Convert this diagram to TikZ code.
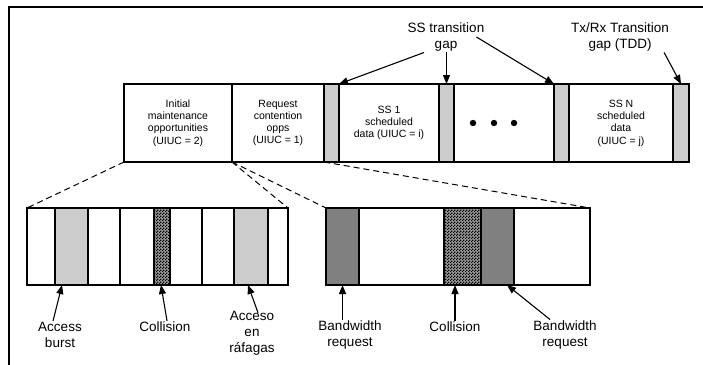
\documentclass[tikz,border=0pt]{standalone}
\usepackage{fontspec}
\setmainfont{Liberation Sans}
\usetikzlibrary{positioning,patterns,arrows.meta}
\pgfdeclarepatternformonly{finecheck}{\pgfpointorigin}{\pgfpoint{3pt}{3pt}}{\pgfpoint{3pt}{3pt}}
{\pgfpathrectangle{\pgfpointorigin}{\pgfpoint{1.5pt}{1.5pt}}
 \pgfpathrectangle{\pgfpoint{1.5pt}{1.5pt}}{\pgfpoint{1.5pt}{1.5pt}}
 \pgfusepath{fill}}
\tikzset{
cell/.style={rectangle,draw=black,line width=1.8pt,inner sep=0pt,outer sep=0pt,
minimum height=78pt,align=center,font=\fontsize{10.5}{12.3}\selectfont},
slot/.style={rectangle,draw=black,line width=1.8pt,inner sep=0pt,outer sep=0pt,
minimum height=77pt},
gapfill/.style={fill=black!20},
burst/.style={fill=black!20},
bwreq/.style={fill=black!50},
clash/.style={preaction={fill=black!40},pattern=finecheck,pattern color=black},
lbl/.style={align=center,inner sep=1pt,font=\fontsize{13.5}{16}\selectfont},
zoomline/.style={dash pattern=on 6pt off 4pt,line width=1pt},
tag/.style={-{Triangle[length=9pt,width=7pt]},line width=1.1pt}
}
\begin{document}
\begin{tikzpicture}[x=1pt,y=1pt]
\useasboundingbox (0,0) rectangle (703,-364);
\clip (0,0) rectangle (703,-364);
\draw[line width=1.3pt] (9,-7) rectangle (720,-380);

% frame of the upstream subframe
\node[cell,minimum width=108pt,anchor=north west] (init) at (124,-84)
  {Initial\\maintenance\\opportunities\\(UIUC = 2)};
\node[cell,minimum width=92pt,right=0pt of init] (req)
  {Request\\contention\\opps\\(UIUC = 1)};
\node[cell,gapfill,minimum width=15pt,right=0pt of req] (gapA) {};
\node[cell,minimum width=100pt,right=0pt of gapA] (ss1)
  {SS 1\\scheduled\\data (UIUC = i)};
\node[cell,gapfill,minimum width=15pt,right=0pt of ss1] (gapB) {};
\node[cell,minimum width=100pt,right=0pt of gapB] (more) {};
\node[cell,gapfill,minimum width=15pt,right=0pt of more] (gapC) {};
\node[cell,minimum width=104pt,right=0pt of gapC] (ssn)
  {SS N\\scheduled\\data\\(UIUC = j)};
\node[cell,gapfill,minimum width=16pt,right=0pt of ssn] (gapD) {};

\foreach \dx in {-31,-10,10}
  \fill ([xshift=\dx pt]more.center) circle (3.2pt);

% initial maintenance slots
\node[slot,minimum width=28pt,anchor=north west] (a1) at (27,-208) {};
\node[slot,burst,minimum width=33pt,right=0pt of a1] (a2) {};
\node[slot,minimum width=32pt,right=0pt of a2] (a3) {};
\node[slot,minimum width=34pt,right=0pt of a3] (a4) {};
\node[slot,clash,minimum width=16pt,right=0pt of a4] (a5) {};
\node[slot,minimum width=32pt,right=0pt of a5] (a6) {};
\node[slot,minimum width=32pt,right=0pt of a6] (a7) {};
\node[slot,burst,minimum width=34pt,right=0pt of a7] (a8) {};
\node[slot,minimum width=20pt,right=0pt of a8] (a9) {};

% request contention slots
\node[slot,bwreq,minimum width=33pt,anchor=north west] (b1) at (326,-208) {};
\node[slot,minimum width=85pt,right=0pt of b1] (b2) {};
\node[slot,clash,minimum width=37pt,right=0pt of b2] (b3) {};
\node[slot,bwreq,minimum width=33pt,right=0pt of b3] (b4) {};
\node[slot,minimum width=76pt,right=0pt of b4] (b5) {};

\draw[zoomline] (init.south west) -- (a1.north west);
\draw[zoomline] (init.south east) -- (a9.north east);
\draw[zoomline] (req.south west) -- (b1.north west);
\draw[zoomline] (req.south east) -- (b5.north east);

% labels
\node[lbl] (sstg) at (446,-37) {SS transition\\gap};
\node[lbl] (txrx) at (620,-37) {Tx/Rx Transition\\gap (TDD)};
\node[lbl] (accb) at (60,-335) {Access\\burst};
\node[lbl] (col1) at (165,-327) {Collision};
\node[lbl] (acc) at (252,-333) {Acceso\\en\\ráfagas};
\node[lbl] (bwr1) at (350,-335) {Bandwidth\\request};
\node[lbl] (col2) at (455,-327) {Collision};
\node[lbl] (bwr2) at (565,-335) {Bandwidth\\request};

\draw[tag] ([xshift=-22pt]sstg.south) -- (gapA.north east);
\draw[tag] (gapB.north |- sstg.south) -- (gapB.north);
\draw[tag] ([xshift=-9pt]sstg.east) -- (gapC.north west);
\draw[tag] ([xshift=-6pt]txrx.south east) -- (gapD.north);

\draw[tag] ([xshift=-7pt]accb.north) -- ([xshift=-9.5pt]a2.south);
\draw[tag] ([xshift=2pt]col1.north) -- ([xshift=-1pt]a5.south);
\draw[tag] ([shift={(6pt,-3pt)}]acc.north) -- ([xshift=-3pt]a8.south);
\draw[tag] (b1.south |- bwr1.north) -- (b1.south);
\draw[tag] (col2.north) -- (col2.north |- b3.south);
\draw[tag] ([xshift=-15pt]bwr2.north) -- ([xshift=9.5pt]b4.south);
\end{tikzpicture}
\end{document}
